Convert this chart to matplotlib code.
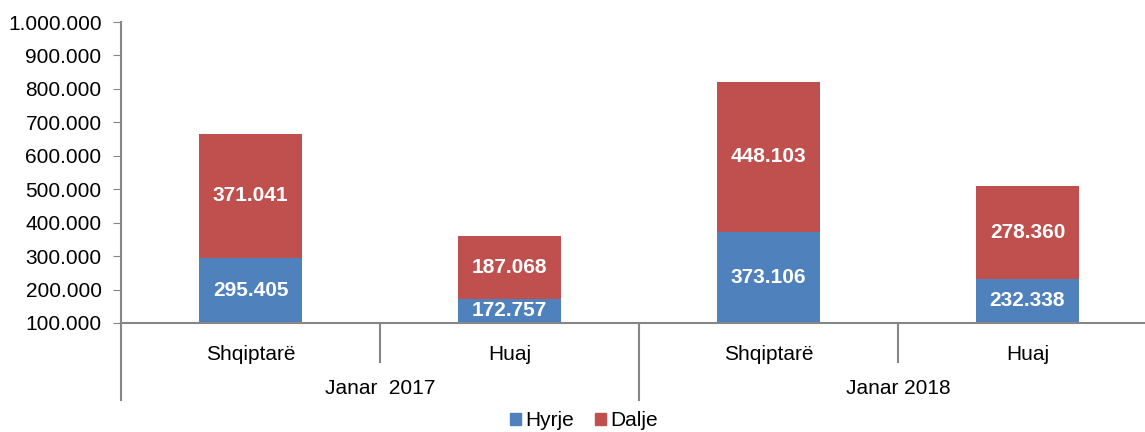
import matplotlib
matplotlib.use("Agg")
import matplotlib.pyplot as plt
from matplotlib.ticker import FuncFormatter
from matplotlib.patches import Patch

plt.rcParams['font.family'] = ['Liberation Sans', 'DejaVu Sans']

categories = ["Shqiptarë", "Huaj", "Shqiptarë", "Huaj"]
groups = ["Janar  2017", "Janar 2018"]
hyrje = [295405, 172757, 373106, 232338]
dalje = [371041, 187068, 448103, 278360]
yticks = [100000, 200000, 300000, 400000, 500000, 600000, 700000, 800000, 900000, 1000000]

BLUE = "#4F81BD"
RED = "#C0504D"
GRAY = "#868686"

W, H = 1145, 432
fig = plt.figure(figsize=(W / 100, H / 100), dpi=100)
ax = fig.add_axes([121 / W, 1 - 323 / H, 1036 / W, 301 / H])

x = list(range(len(categories)))
ymin, ymax = 100000, 1000000
ax.bar(x, hyrje, width=0.4, color=BLUE, zorder=2)
ax.bar(x, dalje, bottom=hyrje, width=0.4, color=RED, zorder=2)

for xi, h, d in zip(x, hyrje, dalje):
    yb = (max(ymin, 0) + h) / 2
    ax.text(xi, yb, f"{h:,}".replace(",", "."), ha="center", va="center",
            color="white", fontsize=15, fontweight="bold", zorder=3)
    ax.text(xi, h + d / 2, f"{d:,}".replace(",", "."), ha="center", va="center",
            color="white", fontsize=15, fontweight="bold", zorder=3)

ax.set_xlim(-0.5, len(categories) - 0.5)
ax.set_ylim(ymin, ymax)
ax.set_yticks(yticks)
ax.yaxis.set_major_formatter(FuncFormatter(lambda v, p: f"{int(v):,}".replace(",", ".")))
ax.tick_params(axis="y", direction="out", length=6, color=GRAY, labelsize=15, labelcolor="black", pad=8)
ax.set_xticks([])

for s in ["top", "right"]:
    ax.spines[s].set_visible(False)
for s in ["left", "bottom"]:
    ax.spines[s].set_color(GRAY)
    ax.spines[s].set_linewidth(1.5)

trans = ax.get_xaxis_transform()
# category separators
for xs in [0.5, 2.5]:
    ax.plot([xs, xs], [0, -39 / 301], color=GRAY, lw=1.5, transform=trans, clip_on=False)
# group separators
for xs in [-0.5, 1.5, 3.5]:
    ax.plot([xs, xs], [0, -77 / 301], color=GRAY, lw=1.5, transform=trans, clip_on=False)

for xi, c in zip(x, categories):
    ax.text(xi, -31 / 301, c, ha="center", va="center", fontsize=15, transform=trans)
for gi, g in enumerate(groups):
    ax.text(gi * 2 + 0.5, -66 / 301, g, ha="center", va="center", fontsize=15, transform=trans)

handles = [Patch(color=BLUE, label="Hyrje"), Patch(color=RED, label="Dalje")]
fig.legend(handles=handles, loc="center", bbox_to_anchor=(584 / W, 1 - 421 / H), ncol=2,
           frameon=False, fontsize=15, handlelength=0.55, handleheight=0.55,
           handletextpad=0.2, columnspacing=1.0, borderpad=0)

fig.savefig("out.png", dpi=100)
